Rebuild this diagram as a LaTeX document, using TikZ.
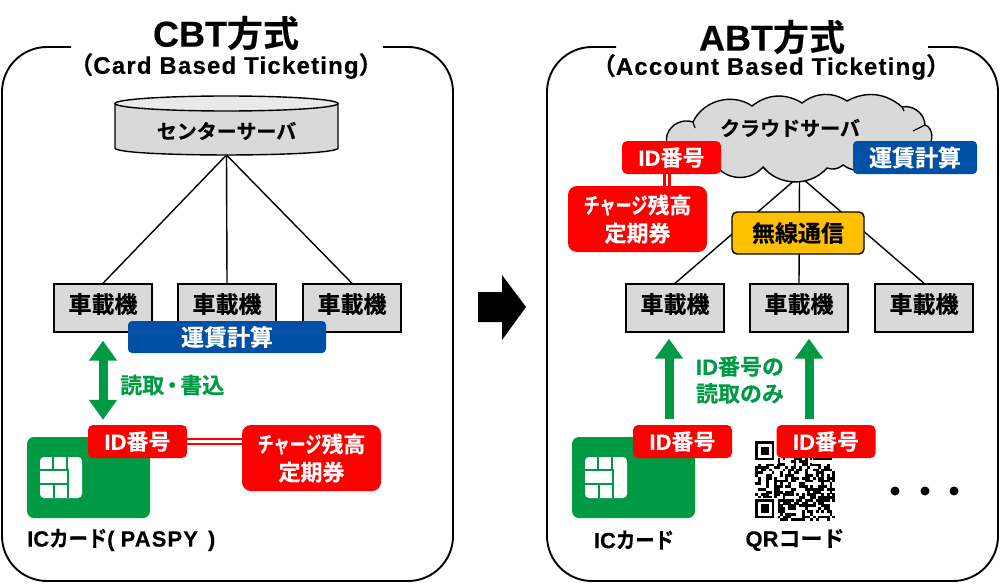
\documentclass[tikz,border=0pt]{standalone}
\usepackage{fontspec}
\setmainfont{Noto Sans CJK JP}[BoldFont={Noto Sans CJK JP Bold},BoldFeatures={FakeBold=0.4}]
\newfontfamily\latinfont{Liberation Sans}[BoldFeatures={FakeBold=0.3}]
\newfontfamily\widefont{Liberation Sans}[LetterSpace=5,BoldFeatures={FakeBold=0.3}]
\usetikzlibrary{arrows.meta}

\definecolor{cardgreen}{HTML}{009A44}
\definecolor{tagblue}{HTML}{0050A5}
\definecolor{boxgray}{HTML}{D9D9D9}
\definecolor{lidgray}{HTML}{E9E9E9}
\definecolor{linkyellow}{HTML}{FFC000}

\newcommand{\fs}[1]{\fontsize{#1}{#1}\selectfont\bfseries}
\newcommand{\lat}[1]{{\latinfont\bfseries #1}}
\newcommand{\charge}{\scalebox{0.73}[1]{チャージ}残高\\[6pt]定期券}
\newcommand{\cardword}{\scalebox{0.88}[1]{カード}}

\tikzset{
    frame/.style={line width=1.9pt, rounded corners=45pt},
    title/.style={font=\fs{36}, inner sep=0pt},
    subtitle/.style={font=\fs{24}, inner sep=0pt},
    bus/.style={draw=black, line width=1.4pt, fill=boxgray, font=\fs{23}, text depth=10pt, minimum width=98pt, minimum height=48pt, inner sep=0pt},
    redtag/.style={fill=red, text=white, rounded corners=5pt, font=\fs{22}, minimum width=99pt, minimum height=33pt, inner sep=0pt},
    chargetag/.style={fill=red, text=white, rounded corners=9pt, font=\fs{22}, align=center, minimum width=139pt, minimum height=66pt, inner sep=0pt},
    bluetag/.style={fill=tagblue, text=white, rounded corners=4pt, font=\fs{23}, inner sep=0pt},
    greentext/.style={text=cardgreen, font=\fs{22}, align=center, inner sep=0pt},
    caption/.style={font=\fs{22}, inner sep=0pt},
    wire/.style={line width=1.4pt},
    redlink/.style={draw=red, line width=2.4pt, double=white, double distance=2.4pt},
    greenarrow/.style={draw=cardgreen, line width=9pt},
    card/.style={fill=cardgreen, rounded corners=7pt},
    slit/.style={draw=cardgreen, line width=1.6pt}
}

% IC card with its chip, #1 = top left corner
\newcommand{\iccard}[1]{
    \begin{scope}[shift={#1}]
        \fill[card] (0,0) rectangle (123,81);
        \fill[white, rounded corners=4pt] (13,20) rectangle (55,61);
        \draw[slit] (26,20) -- (26,33);
        \draw[slit] (40,20) -- (40,33);
        \draw[slit] (13,33) -- (41,33) -- (41,61);
        \draw[slit] (13,47) -- (41,47);
        \draw[slit] (27,47) -- (27,61);
    \end{scope}
}

\begin{document}
\begin{tikzpicture}[x=1pt, y=-1pt]
    \useasboundingbox (0,0) rectangle (1000,583);

    % Frames, open at the top for the titles
    \draw[frame] (71,47) -| (2,581) -| (453,47) -- (383,47);
    \draw[frame] (616,47) -| (547,581) -| (998,47) -- (928,47);

    % Titles
    \node[title] (cbt) at (226,33) {\lat{CBT}方式};
    \node[subtitle] (cbtsub) at (226,66) {（{\widefont\bfseries Card Based Ticketing}）};
    \node[title] (abt) at (772,37) {\lat{ABT}方式};
    \node[subtitle] (abtsub) at (771,67) {（{\widefont\bfseries Account Based Ticketing}）};

    % CBT: server and buses
    \draw[line width=1.4pt, fill=boxgray] (115,103.5) -- (115,148) .. controls (115,157.3) and (338,157.3) .. (338,148) -- (338,103.5) -- cycle;
    \draw[line width=1.4pt, fill=lidgray] (226.5,103.5) ellipse [x radius=111.5, y radius=7.5];
    \coordinate (center) at (226.5,155);
    \node[font=\fs{20}] (centerlabel) at (226.5,131) {センターサーバ};
    \node[bus] (busa) at (103,308) {車載機};
    \node[bus] (busb) at (227,308) {車載機};
    \node[bus] (busc) at (352,308) {車載機};
    \foreach \target in {busa,busb,busc}
        \draw[wire] (center) -- (\target.north);
    \node[bluetag, minimum width=198pt, minimum height=32pt] (farea) at (227,337) {運賃計算};

    % CBT: card side
    \iccard{(27,437)}
    \node[redtag] (ida) at (137.5,441.5) {\lat{ID}番号};
    \node[chargetag] (chargea) at (311.5,458) {\charge};
    \draw[redlink] (ida.east) -- (ida.east -| chargea.west);
    \draw[greenarrow, {Triangle[width=27pt,length=20pt]}-{Triangle[width=27pt,length=20pt]}, shorten <=8pt, shorten >=5pt] (busa.south) -- (ida.north -| busa.south);
    \node[greentext, anchor=west] (rw) at (120,385) {読取\kern-3pt・\kern-3pt書込};
    \node[caption, anchor=west] (cardname) at (27,540) {\lat{IC}\cardword\lat{(}\hspace{6pt}{\widefont\bfseries PASPY}\hspace{10pt}\lat{)}};

    % Arrow between the two methods
    \fill[black] (478,292) -- (502,292) -- (502,275) -- (526,307) -- (502,340) -- (502,322) -- (478,322) -- cycle;

    % ABT: radio wires, cloud, radio link and buses
    \node[bus] (busd) at (675,308) {車載機};
    \node[bus] (buse) at (799,308) {車載機};
    \node[bus] (busf) at (924,308) {車載機};
    \coordinate (cloud) at (799.5,176);
    \foreach \target in {busd,buse,busf}
        \draw[wire] (cloud) -- (\target.north);
    \draw[line width=1.4pt, fill=boxgray] (667,135) to[bend left=45] (693,122) to[bend left=50] (752,106)
        to[bend left=35] (802,103) to[bend left=35] (847,101) to[bend left=35] (902,107)
        to[bend left=50] (925,125) to[bend left=70] (927,146) to[bend left=50] (880,160)
        to[bend left=45] (843,165) to[bend left=30] (827,168) to[bend left=50] (763,167)
        to[bend left=45] (720,170) to[bend left=40] (680,160) to[bend left=40] cycle;
    \draw[line width=1.2pt] (902,107) -- (904,111) (925,125) -- (913,131) (693,122) -- (695,128) (763,167) -- (767,171);
    \node[font=\fs{20}] (cloudlabel) at (790,128) {クラウドサーバ};
    \node[draw=black, line width=1.4pt, fill=linkyellow, rounded corners=5pt, font=\fs{23},
        minimum width=132pt, minimum height=42pt, inner sep=0pt] (radio) at (798,233) {無線通信};
    \node[redtag] (idb) at (671.5,157.5) {\lat{ID}番号};
    \node[chargetag] (chargeb) at (637.5,219) {\charge};
    \draw[redlink] (idb.south -| 667,0) -- (chargeb.north -| 667,0);
    \node[bluetag, minimum width=124pt, minimum height=33pt] (fareb) at (915,157.5) {運賃計算};

    % ABT: card, QR code
    \iccard{(572,437)}
    \begin{scope}[shift={(755,441)}, x=2.76pt, y=-2.76pt]
        \pgfmathsetseed{4711}
        \foreach \col in {0,...,28}
            \foreach \row in {0,...,28}{
                \pgfmathparse{rnd>0.5 ? 1 : 0}
                \ifnum\pgfmathresult=1
                    \fill[black] (\col,\row) rectangle +(1.02,1.02);
                \fi
            }
        \foreach \cx/\cy in {0/0,21/0,0/21}{
            \fill[white] (\cx-0.5,\cy-0.5) rectangle +(9,9);
            \fill[black] (\cx,\cy) rectangle +(7,7);
            \fill[white] (\cx+1,\cy+1) rectangle +(5,5);
            \fill[black] (\cx+2,\cy+2) rectangle +(3,3);
        }
    \end{scope}
    \node[redtag] (idc) at (682.5,441.5) {\lat{ID}番号};
    \node[redtag] (idd) at (826,441.5) {\lat{ID}番号};
    \draw[greenarrow, -{Triangle[width=27pt,length=20pt]}, shorten <=6pt, shorten >=6pt] (idc.north -| 669,0) -- (busd.south -| 669,0);
    \draw[greenarrow, -{Triangle[width=27pt,length=20pt]}, shorten <=6pt, shorten >=6pt] (idd.north -| 809,0) -- (buse.south -| 809,0);
    \node[greentext] (readonly) at (740,380) {\lat{ID}番号の\\[5pt]読取のみ};
    \node[caption] (cardnameb) at (634,540) {\lat{IC}\cardword};
    \node[caption] (qrname) at (795,540) {\lat{QR}コード};
    \foreach \dotx in {895,925,954}
        \fill[black] (\dotx,491) circle (4.5pt);
\end{tikzpicture}
\end{document}
